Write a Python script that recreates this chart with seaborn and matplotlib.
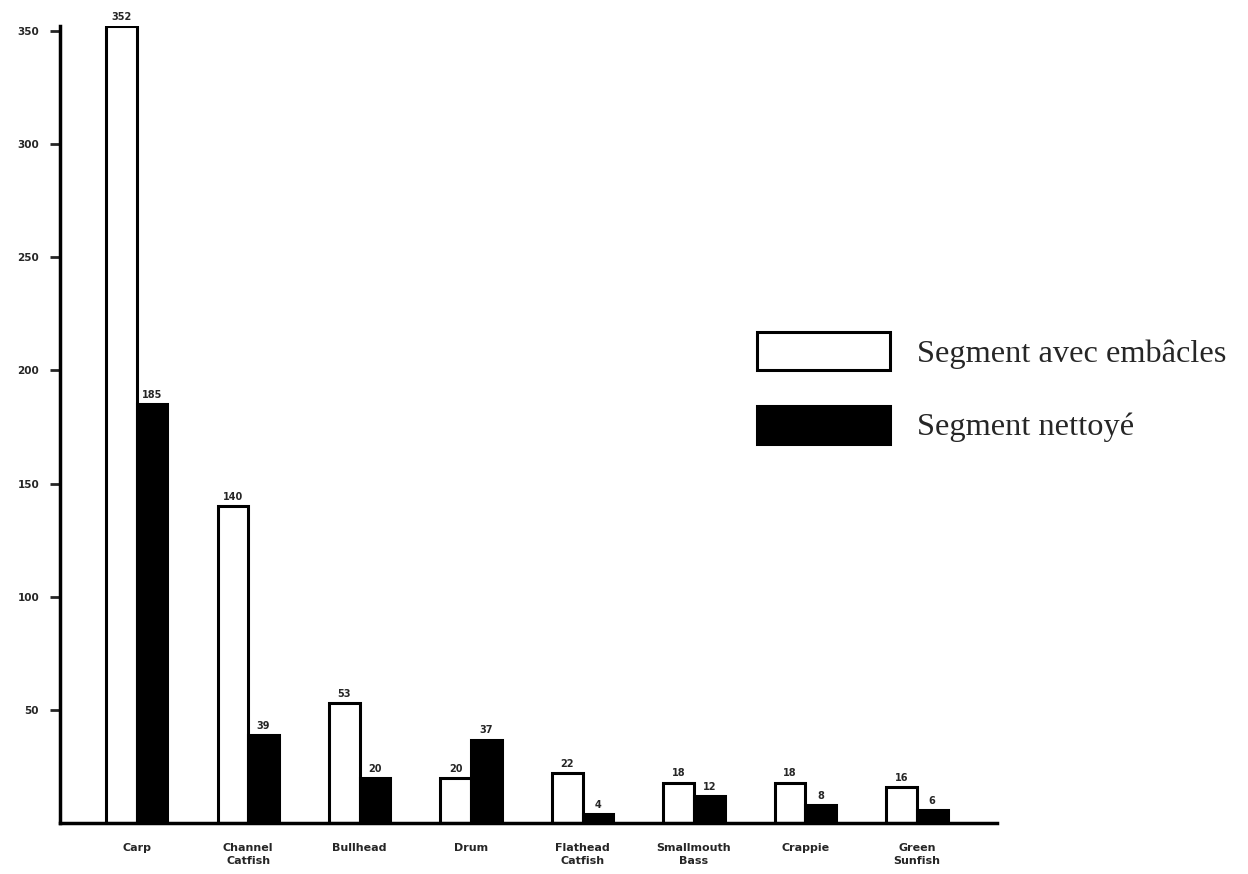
import pandas as pd
import numpy as np
import matplotlib
matplotlib.use("Agg")
import matplotlib.pyplot as plt
import seaborn as sns

# Données
especes = ["Carp", "Channel\nCatfish", "Bullhead", "Drum", "Flathead\nCatfish",
           "Smallmouth\nBass", "Crappie", "Green\nSunfish"]
avec_embacles = [352, 140, 53, 20, 22, 18, 18, 16]
nettoye = [185, 39, 20, 37, 4, 12, 8, 6]
segments = ["Segment avec embâcles", "Segment nettoyé"]
yticks = [50, 100, 150, 200, 250, 300, 350]

df = pd.DataFrame({
    "espece": especes * 2,
    "segment": [segments[0]] * len(especes) + [segments[1]] * len(especes),
    "nombre": avec_embacles + nettoye,
})

sns.set_style("white")
plt.rcParams["font.family"] = ["DejaVu Sans"]

fig = plt.figure(figsize=(12.48, 8.74), dpi=100)
ax = fig.add_axes([0.048, 0.058, 0.751, 0.912])

sns.barplot(data=df, x="espece", y="nombre", hue="segment", order=especes,
            hue_order=segments, palette=["white", "black"], width=0.55,
            edgecolor="black", linewidth=2.2, saturation=1, ax=ax)

# Étiquettes de valeur au-dessus des barres
for cont in ax.containers:
    ax.bar_label(cont, fmt="%d", fontsize=7, fontweight="bold", padding=3, clip_on=False)

ax.set_xlim(-0.69, 7.72)
ax.set_ylim(0, 352)
ax.set_yticks(yticks)
ax.set_yticklabels([str(t) for t in yticks], fontsize=7.5, fontweight="bold")
ax.set_xticklabels(especes, fontsize=8, fontweight="bold", linespacing=1.4)
ax.tick_params(axis="y", direction="out", length=7, width=2, pad=8, left=True)
ax.tick_params(axis="x", length=0, pad=14)
ax.set_xlabel("")
ax.set_ylabel("")
sns.despine(ax=ax)
for s in ["left", "bottom"]:
    ax.spines[s].set_linewidth(2.5)
    ax.spines[s].set_color("black")

ax.legend(loc="upper left", bbox_to_anchor=(0.6066, 0.62), bbox_transform=fig.transFigure,
          frameon=False, prop={"family": "Liberation Serif", "size": 23.3},
          handlelength=4.1, handleheight=1.42, handletextpad=0.85,
          labelspacing=1.11, borderpad=0, borderaxespad=0)

fig.savefig("out.png", dpi=100)
